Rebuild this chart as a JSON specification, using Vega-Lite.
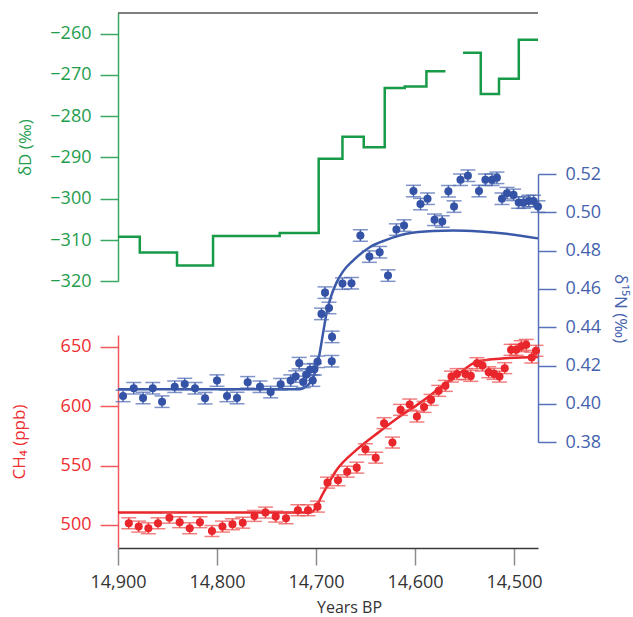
{
  "$schema": "https://vega.github.io/schema/vega-lite/v6.json",
  "width": 420,
  "height": 535,
  "autosize": "none",
  "padding": {"left": 118, "top": 13, "right": 95, "bottom": 69},
  "datasets": {
    "green": [
      {"yr": 14900, "v": -309.2, "seg": "a"}, {"yr": 14878, "v": -313.0, "seg": "a"},
      {"yr": 14840.4, "v": -316.2, "seg": "a"}, {"yr": 14804, "v": -309.0, "seg": "a"},
      {"yr": 14736.7, "v": -308.3, "seg": "a"}, {"yr": 14697.3, "v": -290.3, "seg": "a"},
      {"yr": 14673.3, "v": -285.0, "seg": "a"}, {"yr": 14651.8, "v": -287.5, "seg": "a"},
      {"yr": 14630.6, "v": -273.2, "seg": "a"}, {"yr": 14610.4, "v": -272.8, "seg": "a"},
      {"yr": 14588.5, "v": -269.1, "seg": "a"}, {"yr": 14569.3, "v": -269.1, "seg": "a"},
      {"yr": 14551.5, "v": -264.6, "seg": "b"}, {"yr": 14533.6, "v": -274.6, "seg": "b"},
      {"yr": 14515.2, "v": -270.9, "seg": "b"}, {"yr": 14495.2, "v": -261.5, "seg": "b"},
      {"yr": 14475.8, "v": -261.5, "seg": "b"}
    ],
    "bluePts": [
      {"yr": 14894.9, "v": 0.4042, "e": 0.003}, {"yr": 14884.1, "v": 0.4082, "e": 0.003},
      {"yr": 14874.7, "v": 0.4031, "e": 0.003}, {"yr": 14864.9, "v": 0.4082, "e": 0.003},
      {"yr": 14855.5, "v": 0.4012, "e": 0.003}, {"yr": 14842.7, "v": 0.4090, "e": 0.003},
      {"yr": 14832.6, "v": 0.4104, "e": 0.003}, {"yr": 14822.2, "v": 0.4082, "e": 0.003},
      {"yr": 14812.1, "v": 0.4030, "e": 0.003}, {"yr": 14800.0, "v": 0.4122, "e": 0.003},
      {"yr": 14789.9, "v": 0.4042, "e": 0.003}, {"yr": 14779.8, "v": 0.4031, "e": 0.003},
      {"yr": 14769.0, "v": 0.4113, "e": 0.003}, {"yr": 14756.6, "v": 0.4090, "e": 0.003},
      {"yr": 14745.8, "v": 0.4062, "e": 0.003}, {"yr": 14735.7, "v": 0.4103, "e": 0.003},
      {"yr": 14725.6, "v": 0.4122, "e": 0.003}, {"yr": 14720.5, "v": 0.4143, "e": 0.003},
      {"yr": 14717.0, "v": 0.4213, "e": 0.003}, {"yr": 14712.9, "v": 0.4115, "e": 0.003},
      {"yr": 14709.9, "v": 0.4153, "e": 0.003}, {"yr": 14706.1, "v": 0.4179, "e": 0.003},
      {"yr": 14703.3, "v": 0.4122, "e": 0.003}, {"yr": 14701.6, "v": 0.4181, "e": 0.003},
      {"yr": 14698.5, "v": 0.4220, "e": 0.003}, {"yr": 14694.5, "v": 0.4470, "e": 0.003},
      {"yr": 14690.9, "v": 0.4581, "e": 0.003}, {"yr": 14686.9, "v": 0.4501, "e": 0.003},
      {"yr": 14683.8, "v": 0.4350, "e": 0.003}, {"yr": 14684.1, "v": 0.4223, "e": 0.003},
      {"yr": 14673.3, "v": 0.4628, "e": 0.003}, {"yr": 14664.2, "v": 0.4630, "e": 0.003},
      {"yr": 14655.2, "v": 0.4879, "e": 0.003}, {"yr": 14646.1, "v": 0.4769, "e": 0.003},
      {"yr": 14635.7, "v": 0.4792, "e": 0.003}, {"yr": 14627.3, "v": 0.4670, "e": 0.003},
      {"yr": 14618.8, "v": 0.4910, "e": 0.003}, {"yr": 14611.1, "v": 0.4931, "e": 0.003},
      {"yr": 14601.6, "v": 0.5111, "e": 0.003}, {"yr": 14594.5, "v": 0.5043, "e": 0.003},
      {"yr": 14587.4, "v": 0.5071, "e": 0.003}, {"yr": 14580.3, "v": 0.4961, "e": 0.003},
      {"yr": 14572.5, "v": 0.4952, "e": 0.003}, {"yr": 14566.3, "v": 0.5110, "e": 0.003},
      {"yr": 14560.6, "v": 0.5030, "e": 0.003}, {"yr": 14554.1, "v": 0.5170, "e": 0.003},
      {"yr": 14546.6, "v": 0.5191, "e": 0.003}, {"yr": 14535.4, "v": 0.5111, "e": 0.003},
      {"yr": 14528.9, "v": 0.5170, "e": 0.003}, {"yr": 14522.2, "v": 0.5170, "e": 0.003},
      {"yr": 14517.3, "v": 0.5180, "e": 0.003}, {"yr": 14512.2, "v": 0.5071, "e": 0.003},
      {"yr": 14507.1, "v": 0.5100, "e": 0.003}, {"yr": 14500.5, "v": 0.5091, "e": 0.003},
      {"yr": 14495.3, "v": 0.5051, "e": 0.003}, {"yr": 14490.4, "v": 0.5051, "e": 0.003},
      {"yr": 14485.1, "v": 0.5059, "e": 0.003}, {"yr": 14480.3, "v": 0.5059, "e": 0.003},
      {"yr": 14475.8, "v": 0.5030, "e": 0.003}
    ],
    "blueFit": [
      {"yr": 14900, "v": 0.4077}, {"yr": 14716.5, "v": 0.4077}, {"yr": 14713.1, "v": 0.4082},
      {"yr": 14706.4, "v": 0.4108}, {"yr": 14701.3, "v": 0.4160}, {"yr": 14697.0, "v": 0.4247},
      {"yr": 14692.9, "v": 0.4369}, {"yr": 14688.9, "v": 0.4485}, {"yr": 14684.4, "v": 0.4568},
      {"yr": 14679.4, "v": 0.4632}, {"yr": 14672.7, "v": 0.4692}, {"yr": 14662.6, "v": 0.4748},
      {"yr": 14645.8, "v": 0.4818}, {"yr": 14628.9, "v": 0.4856}, {"yr": 14608.7, "v": 0.4888},
      {"yr": 14581.8, "v": 0.4903}, {"yr": 14561.6, "v": 0.4905}, {"yr": 14534.6, "v": 0.4900},
      {"yr": 14507.7, "v": 0.4888}, {"yr": 14475.8, "v": 0.4864}
    ],
    "redPts": [
      {"yr": 14889.1, "v": 501.4, "e": 4.6}, {"yr": 14879.1, "v": 498.6, "e": 4.6},
      {"yr": 14869.3, "v": 497.2, "e": 4.6}, {"yr": 14859.6, "v": 501.4, "e": 4.6},
      {"yr": 14848.1, "v": 506.1, "e": 4.6}, {"yr": 14837.7, "v": 502.3, "e": 4.6},
      {"yr": 14827.6, "v": 497.2, "e": 4.6}, {"yr": 14817.2, "v": 502.3, "e": 4.6},
      {"yr": 14805.1, "v": 494.9, "e": 4.6}, {"yr": 14794.5, "v": 498.6, "e": 4.6},
      {"yr": 14784.4, "v": 500.6, "e": 4.6}, {"yr": 14774.0, "v": 501.9, "e": 4.6},
      {"yr": 14762.2, "v": 507.6, "e": 4.6}, {"yr": 14751.1, "v": 510.4, "e": 4.6},
      {"yr": 14740.7, "v": 507.0, "e": 4.6}, {"yr": 14730.3, "v": 505.6, "e": 4.6},
      {"yr": 14718.3, "v": 512.4, "e": 4.6}, {"yr": 14708.1, "v": 512.4, "e": 4.6},
      {"yr": 14698.5, "v": 515.4, "e": 4.6}, {"yr": 14688.4, "v": 535.6, "e": 4.6},
      {"yr": 14677.8, "v": 537.6, "e": 4.6}, {"yr": 14668.5, "v": 544.8, "e": 4.6},
      {"yr": 14658.9, "v": 548.2, "e": 4.6}, {"yr": 14650.1, "v": 563.7, "e": 4.6},
      {"yr": 14639.7, "v": 556.6, "e": 4.6}, {"yr": 14631.3, "v": 585.6, "e": 4.6},
      {"yr": 14622.8, "v": 569.3, "e": 4.6}, {"yr": 14614.6, "v": 596.8, "e": 4.6},
      {"yr": 14605.4, "v": 601.3, "e": 4.6}, {"yr": 14598.1, "v": 591.2, "e": 4.6},
      {"yr": 14590.9, "v": 599.3, "e": 4.6}, {"yr": 14583.8, "v": 605.2, "e": 4.6},
      {"yr": 14576.1, "v": 612.8, "e": 4.6}, {"yr": 14569.3, "v": 617.0, "e": 4.6},
      {"yr": 14563.2, "v": 624.8, "e": 4.6}, {"yr": 14557.6, "v": 626.9, "e": 4.6},
      {"yr": 14549.1, "v": 626.9, "e": 4.6}, {"yr": 14543.7, "v": 625.4, "e": 4.6},
      {"yr": 14537.4, "v": 636.1, "e": 4.6}, {"yr": 14531.9, "v": 634.1, "e": 4.6},
      {"yr": 14525.6, "v": 628.5, "e": 4.6}, {"yr": 14520.2, "v": 627.1, "e": 4.6},
      {"yr": 14514.7, "v": 624.8, "e": 4.6}, {"yr": 14509.4, "v": 631.9, "e": 4.6},
      {"yr": 14503.0, "v": 647.3, "e": 4.6}, {"yr": 14497.8, "v": 647.3, "e": 4.6},
      {"yr": 14492.7, "v": 650.4, "e": 4.6}, {"yr": 14487.7, "v": 651.5, "e": 4.6},
      {"yr": 14482.1, "v": 640.8, "e": 4.6}, {"yr": 14477.8, "v": 646.5, "e": 4.6}
    ],
    "redFit": [
      {"yr": 14900, "v": 510.4}, {"yr": 14707, "v": 510.4}, {"yr": 14703, "v": 511.6},
      {"yr": 14692.9, "v": 526.6}, {"yr": 14679.4, "v": 546.0}, {"yr": 14659.2, "v": 563.1},
      {"yr": 14635.7, "v": 578.6}, {"yr": 14615.5, "v": 591.2}, {"yr": 14595.3, "v": 602.5},
      {"yr": 14575.1, "v": 615.2}, {"yr": 14554.9, "v": 627.8}, {"yr": 14541.4, "v": 636.0},
      {"yr": 14530, "v": 638.6}, {"yr": 14514.4, "v": 639.9}, {"yr": 14475.8, "v": 641.2}
    ]
  },
  "config": {
    "view": {"stroke": null},
    "font": "Open Sans",
    "axis": {
      "grid": false,
      "labelFontSize": 18,
      "titleFontSize": 17,
      "titleFontWeight": "normal",
      "tickSize": 18,
      "tickWidth": 1.5,
      "domainWidth": 1.5,
      "labelPadding": 9
    }
  },
  "resolve": {"scale": {"y": "independent"}, "axis": {"y": "independent"}},
  "layer": [
    {
      "layer": [
        {
          "data": {"name": "green"},
          "mark": {"type": "line", "interpolate": "step-after", "color": "#179b48", "strokeWidth": 2.5},
          "encoding": {
            "x": {"field": "yr", "type": "quantitative", "title": "Years BP", "scale": {"domain": [14475.8, 14900], "reverse": true, "nice": false, "zero": false}, "axis": {"title": "Years BP", "values": [14900, 14800, 14700, 14600, 14500], "format": ",.0f", "labelFlush": false, "domainColor": "#3a3a3a", "tickColor": "#8c8c8c", "tickSize": 17, "labelColor": "#333333", "titleColor": "#333333", "labelFontSize": 18, "titleFontSize": 16, "labelPadding": 8, "titlePadding": 8, "titleX": 231}},
            "y": {"field": "v", "type": "quantitative", "title": "δD (‰)", "scale": {"domain": [-320, -255], "range": [268.3, 0], "nice": false, "zero": false}, "axis": {"orient": "left", "title": "δD (‰)", "values": [-320, -310, -300, -290, -280, -270, -260], "domainColor": "#3aa862", "tickColor": "#3aa862", "labelColor": "#1f9d4e", "titleColor": "#1f9d4e", "titleX": -84}},
            "detail": {"field": "seg", "type": "nominal"}
          }
        },
        {
          "data": {"values": [{}]},
          "mark": {"type": "rule", "color": "#555555", "strokeWidth": 1.5},
          "encoding": {"y": {"datum": -255, "title": "δD (‰)"}}
        }
      ]
    },
    {
      "layer": [
        {
          "data": {"name": "blueFit"},
          "mark": {"type": "line", "interpolate": "monotone", "color": "#3a5aa9", "strokeWidth": 2.5},
          "encoding": {
            "x": {"field": "yr", "type": "quantitative", "title": "Years BP", "scale": {"domain": [14475.8, 14900], "reverse": true, "nice": false, "zero": false}, "axis": {"title": "Years BP", "values": [14900, 14800, 14700, 14600, 14500], "format": ",.0f", "labelFlush": false, "domainColor": "#3a3a3a", "tickColor": "#8c8c8c", "tickSize": 17, "labelColor": "#333333", "titleColor": "#333333", "labelFontSize": 18, "titleFontSize": 16, "labelPadding": 8, "titlePadding": 8, "titleX": 231}},
            "y": {"field": "v", "type": "quantitative", "title": "δ¹⁵N (‰)", "scale": {"domain": [0.38, 0.52], "range": [429.3, 161], "nice": false, "zero": false}, "axis": {"orient": "right", "title": "δ¹⁵N (‰)", "format": ".2f", "values": [0.38, 0.4, 0.42, 0.44, 0.46, 0.48, 0.5, 0.52], "domainColor": "#5672b8", "tickColor": "#5672b8", "labelColor": "#4562ad", "titleColor": "#4562ad", "titleX": 72}}
          }
        },
        {
          "data": {"name": "bluePts"},
          "mark": {"type": "errorbar", "color": "#4a66b0", "thickness": 1.5, "ticks": {"size": 15, "thickness": 1.5}},
          "encoding": {
            "x": {"field": "yr", "type": "quantitative", "title": "Years BP"},
            "y": {"field": "v", "type": "quantitative", "title": "δ¹⁵N (‰)"},
            "yError": {"field": "e"}
          }
        },
        {
          "data": {"name": "bluePts"},
          "mark": {"type": "circle", "size": 65, "opacity": 1, "color": "#3553a6"},
          "encoding": {
            "x": {"field": "yr", "type": "quantitative", "title": "Years BP"},
            "y": {"field": "v", "type": "quantitative", "title": "δ¹⁵N (‰)"}
          }
        }
      ]
    },
    {
      "layer": [
        {
          "data": {"name": "redFit"},
          "mark": {"type": "line", "interpolate": "monotone", "color": "#e8262b", "strokeWidth": 2.5},
          "encoding": {
            "x": {"field": "yr", "type": "quantitative", "title": "Years BP", "scale": {"domain": [14475.8, 14900], "reverse": true, "nice": false, "zero": false}, "axis": {"title": "Years BP", "values": [14900, 14800, 14700, 14600, 14500], "format": ",.0f", "labelFlush": false, "domainColor": "#3a3a3a", "tickColor": "#8c8c8c", "tickSize": 17, "labelColor": "#333333", "titleColor": "#333333", "labelFontSize": 18, "titleFontSize": 16, "labelPadding": 8, "titlePadding": 8, "titleX": 231}},
            "y": {"field": "v", "type": "quantitative", "title": "CH₄ (ppb)", "scale": {"domain": [480.6, 659.8], "range": [535, 322], "nice": false, "zero": false}, "axis": {"orient": "left", "title": "CH₄ (ppb)", "values": [500, 550, 600, 650], "domainColor": "#f05a5c", "tickColor": "#f05a5c", "labelColor": "#ee2e33", "titleColor": "#ee2e33", "titleX": -90}}
          }
        },
        {
          "data": {"name": "redPts"},
          "mark": {"type": "errorbar", "color": "#ec4a4c", "thickness": 1.5, "ticks": {"size": 15, "thickness": 1.5}},
          "encoding": {
            "x": {"field": "yr", "type": "quantitative", "title": "Years BP"},
            "y": {"field": "v", "type": "quantitative", "title": "CH₄ (ppb)"},
            "yError": {"field": "e"}
          }
        },
        {
          "data": {"name": "redPts"},
          "mark": {"type": "circle", "size": 65, "opacity": 1, "color": "#e8262b"},
          "encoding": {
            "x": {"field": "yr", "type": "quantitative", "title": "Years BP"},
            "y": {"field": "v", "type": "quantitative", "title": "CH₄ (ppb)"}
          }
        }
      ]
    }
  ]
}
